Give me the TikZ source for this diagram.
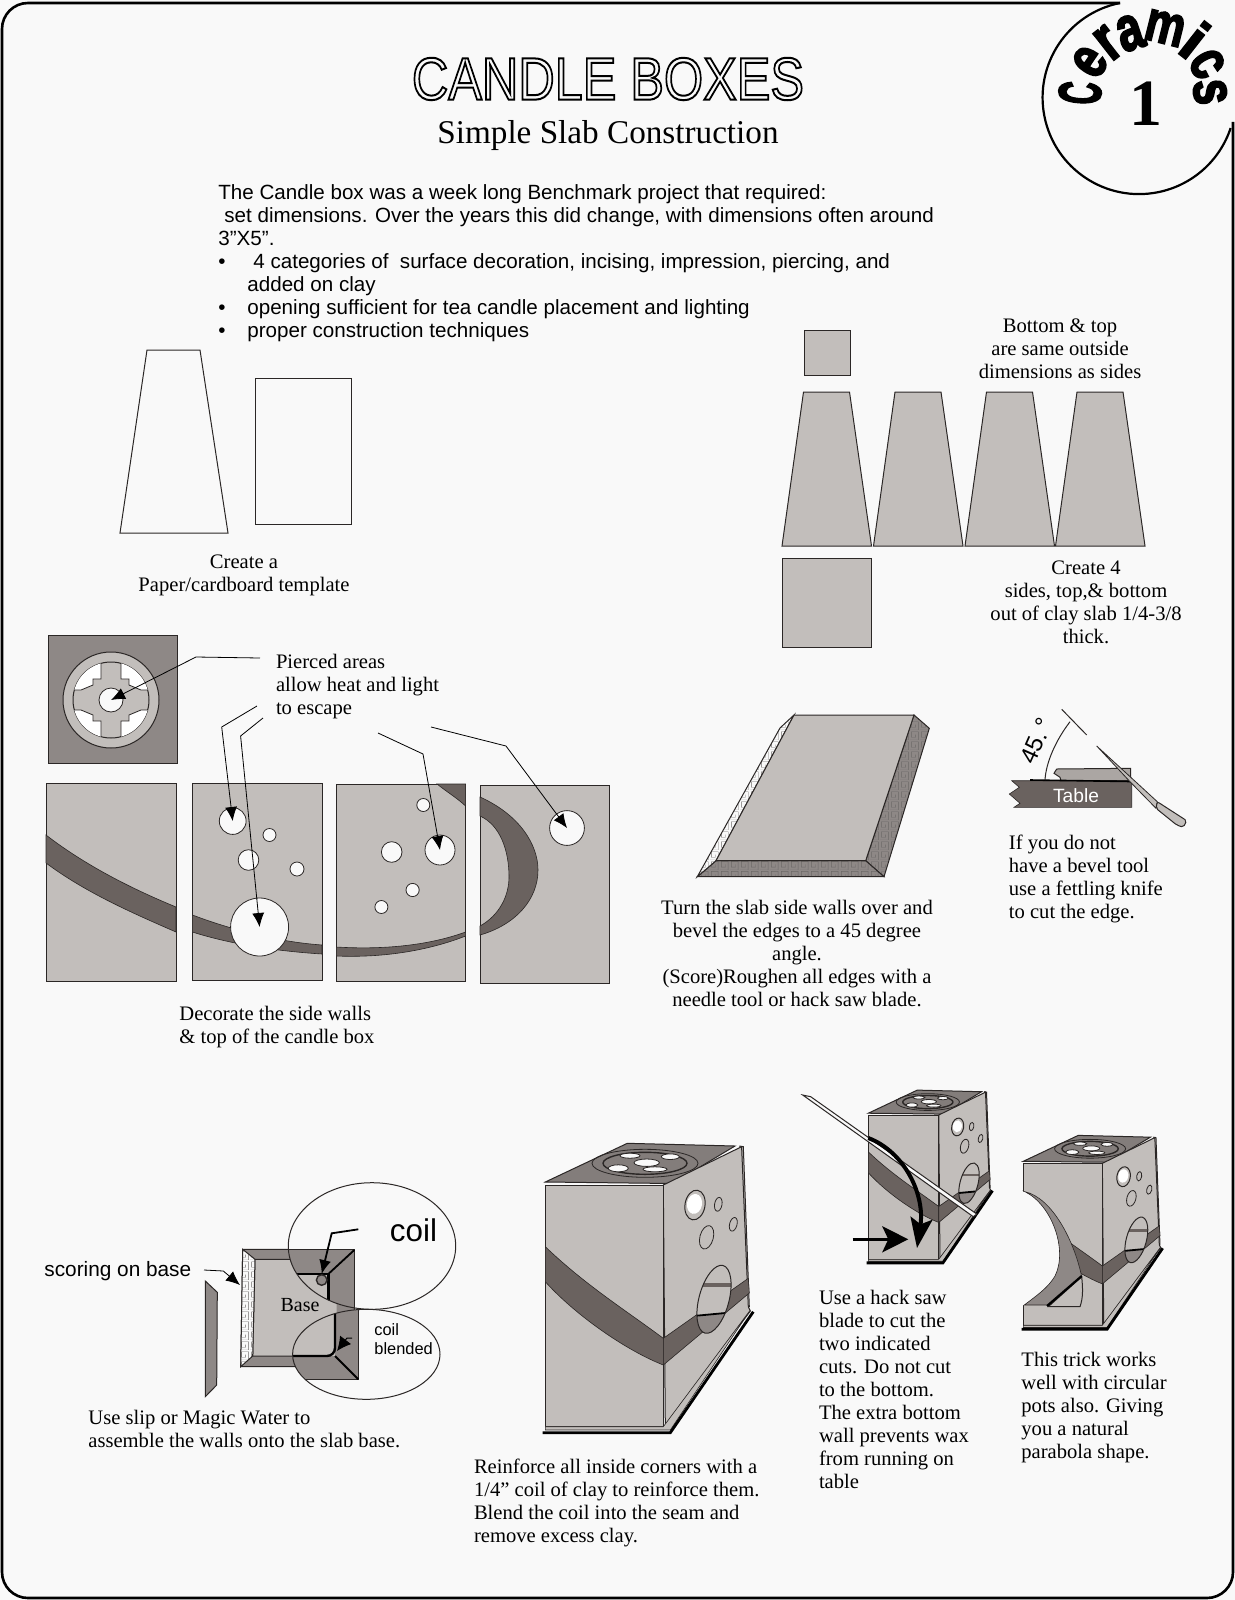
\documentclass[tikz,border=0pt]{standalone}
\usepackage{fontspec}
\setmainfont{Liberation Serif}
\setsansfont{Liberation Sans}
\usetikzlibrary{arrows.meta,patterns}
\definecolor{paper}{HTML}{F9F9F9}
\definecolor{clay}{HTML}{C2BEBB}
\definecolor{claymid}{HTML}{8E8886}
\definecolor{claydark}{HTML}{6A625F}
\definecolor{edge}{HTML}{2B2726}
\pgfdeclarepatternformonly{keyfret}{\pgfqpoint{0pt}{0pt}}{\pgfqpoint{5pt}{5pt}}{\pgfqpoint{5pt}{5pt}}{
  \pgfsetlinewidth{0.25pt}
  \pgfpathmoveto{\pgfqpoint{0pt}{0pt}}
  \pgfpathlineto{\pgfqpoint{4.5pt}{0pt}}
  \pgfpathlineto{\pgfqpoint{4.5pt}{4.5pt}}
  \pgfpathlineto{\pgfqpoint{0.8pt}{4.5pt}}
  \pgfpathlineto{\pgfqpoint{0.8pt}{1.5pt}}
  \pgfpathlineto{\pgfqpoint{3pt}{1.5pt}}
  \pgfpathlineto{\pgfqpoint{3pt}{3pt}}
  \pgfusepath{stroke}
}
\tikzset{
  panel/.style={draw=edge,line width=0.5pt,fill=clay},
  band/.style={draw=edge,line width=0.3pt,fill=claydark},
  slab/.style={draw=edge,line width=0.5pt,fill=claymid},
  hole/.style={draw=edge,line width=0.4pt,fill=paper,circle,inner sep=0pt},
  leader/.style={draw=black,line width=0.4pt,-{Latex[length=7pt,width=6pt]}},
  heavy/.style={draw=black,line width=1.2pt},
  serif/.style={font=\fontsize{10.3}{11.5}\selectfont,inner sep=0pt},
  sans/.style={font=\sffamily\fontsize{10.3}{11.5}\selectfont,inner sep=0pt},
  stamp/.style={font=\sffamily\bfseries\fontsize{30}{30}\selectfont,inner sep=0pt,transform shape},
  topwindow/.style={draw=edge,line width=0.4pt,fill=paper},
  candlebox/.pic={
    \fill[paper] (-1,-5) rectangle (118,0);
    \draw[slab,fill=claymid!92!black] (0,-3) -- (82,-41.7) -- (189.7,-39) -- (127,-1.5) -- cycle;
    \draw[panel] (194,-39) -- (198,-38.3) -- (204,122);
    \draw[panel] (118,0) -- (196.3,-38.3) -- (203,121.7) -- (205,126) -- (120,240) -- cycle;
    \draw[panel] (0,0) rectangle (118,241.7);
    \draw[band] (0,61.7) .. controls (40,100) and (80,125) .. (118,153.3) -- (118,180) .. controls (80,165) and (30,130) .. (0,96.7) -- cycle;
    \draw[band] (118,153.3) -- (203,93.3) -- (204,108) -- (118,180) -- cycle;
    \begin{scope}
      \clip[rotate around={-15:(168.7,114.3)}] (168.7,114.3) ellipse [x radius=15,y radius=35];
      \fill[clay] (140,70) rectangle (195,160);
      \fill[claydark] (150,98) rectangle (195,102);
      \fill[claymid] (148,132) -- (180,128) -- (180,155) -- (148,155) -- cycle;
      \draw[black,line width=0.9pt] (148,131) -- (180,128);
    \end{scope}
    \draw[edge,line width=0.5pt,rotate around={-15:(168.7,114.3)}] (168.7,114.3) ellipse [x radius=15,y radius=35];
    \draw[edge,line width=0.5pt,rotate around={-10:(149.7,20)}] (149.7,20) ellipse [x radius=10,y radius=15];
    \fill[white,rotate around={-10:(149.7,20)}] (149,19) ellipse [x radius=7.5,y radius=10];
    \draw[edge,line width=0.4pt,rotate around={-10:(173,19.3)}] (173,19.3) ellipse [x radius=3.7,y radius=7];
    \draw[edge,line width=0.4pt,rotate around={-15:(161.3,52.3)}] (161.3,52.3) ellipse [x radius=6.7,y radius=12];
    \draw[edge,line width=0.4pt,rotate around={-15:(188,39.3)}] (188,39.3) ellipse [x radius=3.7,y radius=7];
    \draw[edge,line width=0.4pt] (99.7,-21.7) ellipse [x radius=53,y radius=14];
    \draw[edge,line width=0.7pt] (99.7,-21.7) ellipse [x radius=42,y radius=11];
    \draw[topwindow] (101.4,-22.3) ellipse [x radius=12.7,y radius=3.7];
    \draw[topwindow] (84.7,-29.3) ellipse [x radius=10,y radius=2.5];
    \draw[topwindow] (125,-28.3) ellipse [x radius=9,y radius=2.8];
    \draw[topwindow] (73,-16.7) ellipse [x radius=10,y radius=3.5];
    \draw[topwindow] (109.7,-15.7) ellipse [x radius=12,y radius=2.5];
    \fill[clay,draw=edge,line width=0.3pt] (0,241.7) -- (118,241.7) -- (205,125) -- (125,245) -- (0,245) -- cycle;
    \draw[black,line width=1.4pt] (-2.7,247.7) -- (125,247.7) -- (208,126.7);
  }
}
\begin{document}
\begin{tikzpicture}[x=0.5pt,y=-0.5pt]
\useasboundingbox (0,0) rectangle (1235,1600);
\fill[paper] (0,0) rectangle (1235,1600);
\draw[black,line width=1.3pt] (1120,3) -- (28,3) arc[start angle=-90,end angle=-180,radius=26] -- (2,1572)
  arc[start angle=180,end angle=90,radius=26] -- (1207,1598) arc[start angle=90,end angle=0,radius=26] -- (1233,122);
\draw[black,line width=1.1pt] (1120,3) arc[start angle=-101.4,end angle=-341.6,radius=96.5];

\node[transform shape,xscale=0.84,font=\sffamily\fontsize{30}{30}\selectfont,inner sep=0pt] (title) at (608,79)
  {\special{pdf:code 1 Tr 1 w}CANDLE BOXES\special{pdf:code 0 Tr 1 w}};
\node[font=\fontsize{16.6}{20}\selectfont,inner sep=0pt] (subtitle) at (608,135.5) {Simple Slab Construction};
\foreach \nm/\ch/\cx/\cy/\rot/\xs/\ys in {sc/C/1080/93/86/0.52/1, se/e/1090/62/56/0.76/1, sr/r/1108/43/38/0.8/1.05, sa/a/1130/33/18/0.76/1.05,
    sm/m/1165/28/-14/0.74/0.95, si/i/1195/40/-38/1/0.95, sk/c/1207/64/-60/0.76/1, ss/s/1210/92/-84/0.76/1}
  \node[stamp,rotate=\rot,xscale=\xs,yscale=\ys] (\nm) at (\cx,\cy) {\special{pdf:code 2 Tr 1 w}\ch\special{pdf:code 0 Tr 1 w}};
\node[font=\bfseries\fontsize{33}{33}\selectfont,inner sep=0pt] (stampone) at (1146,104) {1};

\node[sans,anchor=north west,align=left] (intro) at (218,184) {The Candle box was a week long Benchmark project that required:\\
  \hspace*{3pt}set dimensions. Over the years this did change, with dimensions often around\\
  3”X5”.\\
  \makebox[17.5pt][l]{•}4 categories of\ \ surface decoration, incising, impression, piercing, and\\
  \hspace*{14.5pt}added on clay\\
  \makebox[14.5pt][l]{•}opening sufficient for tea candle placement and lighting\\
  \makebox[14.5pt][l]{•}proper construction techniques};

\draw[draw=edge,line width=0.5pt] (147,350) -- (200,350) -- (228,533) -- (120,533) -- cycle;
\draw[draw=edge,line width=0.5pt] (255,378) rectangle (351,524);
\node[serif,align=center] (template) at (244,575) {Create a\\Paper/cardboard template};

\draw[panel] (804,330) rectangle (850,375);
\foreach \tx in {782,873.5,965,1055.5}
  \draw[panel] ({\tx+21.5},392) -- ({\tx+67.5},392) -- ({\tx+89.5},546) -- (\tx,546) -- cycle;
\draw[panel] (782,558) rectangle (871,647);
\node[serif,align=center] (samesize) at (1060,349) {Bottom \& top\\are same outside\\dimensions as sides};
\node[serif,align=center] (fourcut) at (1086,602) {Create 4\\sides, top,\& bottom\\out of clay slab 1/4-3/8\\thick.};

\draw[slab] (48.5,635) rectangle (177,763);
\draw[edge,line width=0.5pt,fill=clay] (111,700) circle [radius=48];
\draw[edge,line width=0.5pt,fill=clay] (111,700) circle [radius=38];
\begin{scope}
  \clip (111,700) circle [radius=38];
  \foreach \sx/\sy in {1/1,1/-1,-1/1,-1/-1}
    \draw[edge,line width=0.4pt,fill=white] ({111+\sx*10},{700+\sy*42}) -- ({111+\sx*10},{700+\sy*21}) -- ({111+\sx*18},{700+\sy*21})
      -- ({111+\sx*18},{700+\sy*15}) -- ({111+\sx*30},{700+\sy*10}) -- ({111+\sx*42},{700+\sy*10}) -- ({111+\sx*42},{700+\sy*42}) -- cycle;
\end{scope}
\foreach \px/\py/\pw/\ph in {46/783/130/198,192.4/783/129.6/197,336.3/784/129.3/197,480/785/129/198}
  \draw[panel] (\px,\py) rectangle ++(\pw,\ph);
\draw[band] (46,835) .. controls (85,865) and (130,888) .. (176,907) -- (176,932) .. controls (130,912) and (85,892) .. (46,863) -- cycle;
\draw[band] (192.4,915) .. controls (235,931) and (280,942) .. (322,945) -- (322,954) .. controls (275,951) and (230,944) .. (192.4,932) -- cycle;
\draw[band] (336.3,947) .. controls (385,950) and (430,945) .. (465.6,932) -- (465.6,936) .. controls (430,950) and (385,958) .. (336.3,956) -- cycle;
\draw[band] (437,784) -- (465.6,784) -- (465.6,806) .. controls (457,798) and (447,792) .. (437,784) -- cycle;
\draw[band] (480,797) .. controls (520,815) and (538,845) .. (538,870) .. controls (538,900) and (515,925) .. (480,935)
  -- (480,926) .. controls (500,915) and (509,895) .. (509,877) .. controls (509,850) and (500,825) .. (480,816) -- cycle;
\foreach \nm/\cx/\cy/\dia in {top/111/700/12, wa/232.7/821/13.4, wb/269.5/835/6.5, wc/248.5/860/10.3, wd/297/869/7, we/259.6/927/29,
    xa/423.3/805/6.5, xb/391.7/852/10.3, xc/440/850/15, xd/412.6/890/6.6, xe/381.4/907/6.5, ya/567/828/17.4}
  \node[hole,minimum size=\dia pt] (\nm) at (\cx,\cy) {};
\coordinate (la) at (260,658); \coordinate (lb) at (257,706); \coordinate (lc) at (263,718); \coordinate (ld) at (378,733); \coordinate (le) at (431,727);
\draw[leader] (la) -- (196,657) -- (top.center);
\draw[leader] (lb) -- (221.7,727) -- (wa.center);
\draw[leader] (lc) -- (240.6,736) -- (we.center);
\draw[leader] (ld) -- (423,754) -- (xc.center);
\draw[leader] (le) -- (506,746) -- (ya.center);
\node[serif,anchor=west,align=left] (pierced) at (275.6,687) {Pierced areas\\allow heat and light\\to escape};
\node[serif,anchor=west,align=left] (decorate) at (179,1027) {Decorate the side walls\\\& top of the candle box};

\draw[slab,preaction={fill=claymid},pattern=keyfret,pattern color=edge!70] (914,715) -- (929.3,728.3) -- (884,876.7) -- (865.7,860.7) -- cycle;
\draw[slab,preaction={fill=claymid},pattern=keyfret,pattern color=edge!70] (716,860.7) -- (865.7,860.7) -- (884,876.7) -- (697.3,876.7) -- cycle;
\draw[slab,preaction={fill=paper},pattern=keyfret,pattern color=edge!70] (794,715) -- (780,728) -- (697.3,876.7) -- (716,860.7) -- cycle;
\draw[panel] (794,715) -- (914,715) -- (865.7,860.7) -- (716,860.7) -- cycle;
\node[serif,align=center] (bevel) at (797,953) {Turn the slab side walls over and\\bevel the edges to a 45 degree\\angle.\\(Score)Roughen all edges with a\\needle tool or hack saw blade.};

\draw[slab,fill=clay!55!claymid] (1054,773.3) -- (1056.7,769) -- (1130.7,768.3) -- (1130.7,780.7) -- (1061,780.7) -- (1060,777.3) -- cycle;
\draw[band,fill=claydark] (1011.7,780.7) -- (1131.7,780.7) -- (1131.7,807.3) -- (1014,807.3) -- (1020,803.3) -- (1009.3,794) -- (1019.3,787.3) -- cycle;
\draw[black,line width=0.8pt] (1030,780) -- (1131,781.5);
\node[sans,font=\sffamily\fontsize{9.6}{10}\selectfont,text=white] (table) at (1076,796) {Table};
\draw[edge,line width=0.5pt] (1045,780) .. controls (1046,762) and (1056,740) .. (1070,721.7);
\draw[edge,line width=0.5pt] (1061.7,709.3) -- (1086.7,735);
\node[sans,font=\sffamily\fontsize{12}{12}\selectfont,rotate=66] (angle) at (1036.5,741) {45.\,°};
\draw[edge,line width=0.4pt,fill=clay] (1096.7,746) -- (1157.3,801.7) -- (1156,808.3) -- (1130,781.7) -- cycle;
\draw[edge,line width=0.5pt,fill=clay,rounded corners=1pt] (1157.3,801.7) -- (1186.7,820.7) -- (1183.3,827.3) -- (1176.7,825) -- (1156,808.3) -- cycle;
\node[serif,anchor=west,align=left] (fettling) at (1008.5,879) {If you do not\\have a bevel tool\\use a fettling knife\\to cut the edge.};

\draw[slab] (205.3,1281) -- (217.3,1292.3) -- (216.7,1385) -- (205.3,1396.7) -- cycle;
\draw[slab] (242.7,1249.3) -- (354.3,1249.3) -- (354.3,1366.7) -- (240.7,1366.7) -- cycle;
\fill[clay] (255,1259.3) -- (336.7,1259.3) -- (336.7,1356) -- (252.7,1356) -- cycle;
\draw[edge,line width=0.5pt] (252.7,1356) -- (255,1259.3) -- (340,1259.3) (252.7,1356) -- (340,1356);
\draw[slab,preaction={fill=paper},pattern=keyfret,pattern color=edge!70] (242.7,1249.3) -- (255,1259.3) -- (252.7,1356) -- (240.7,1366.7) -- cycle;
\node[serif,font=\fontsize{10}{11}\selectfont] (basetext) at (300,1305) {Base};
\begin{scope}
  \clip (372,1246) ellipse [x radius=83.7,y radius=63.3];
  \fill[paper] (280,1180) rectangle (460,1312);
  \fill[claymid] (285,1249.3) -- (354.3,1249.3) -- (354.3,1312) -- (328.3,1312) -- (328.3,1274) -- (285,1274) -- cycle;
  \fill[clay] (285,1274) rectangle (328.3,1312);
  \draw[edge,line width=0.5pt] (285,1249.3) -- (354.3,1249.3) -- (354.3,1312);
  \draw[heavy] (285,1274) -- (328.3,1274) -- (328.3,1312);
  \draw[heavy,line width=0.9pt] (328.3,1274) -- (354.3,1250);
\end{scope}
\node[hole,fill=claymid,minimum size=5.3pt,line width=0.7pt] (coilend) at (321.7,1280) {};
\coordinate (coilstart) at (358.3,1229.3);
\draw[leader,line width=0.9pt] (coilstart) -- (331.7,1233.3) -- (coilend.north);
\draw[edge,line width=0.5pt] (372,1246) ellipse [x radius=83.7,y radius=63.3];
\begin{scope}
  \clip (366.3,1354.3) ellipse [x radius=73.7,y radius=45];
  \fill[paper] (285,1305) rectangle (450,1405);
  \fill[claymid] (335,1309.3) -- (358.3,1309.3) -- (358.3,1379.3) -- (285,1379.3) -- (285,1356) -- (335,1356) -- cycle;
  \fill[clay] (285,1309.3) rectangle (335,1356);
  \draw[edge,line width=0.5pt] (285,1379.3) -- (358.3,1379.3) -- (358.3,1309.3);
  \draw[heavy,rounded corners=4pt] (335,1305) -- (335,1356) -- (285,1356);
  \draw[heavy,line width=0.9pt] (335,1356) -- (358.3,1379.3);
\end{scope}
\coordinate (blendstart) at (352,1338);
\coordinate (blendend) at (337,1351);
\draw[leader,line width=0.5pt,-{Latex[length=7pt,width=7pt]}] (blendstart) -- (347,1338) -- (blendend);
\draw[edge,line width=0.5pt] (366.3,1354.3) ellipse [x radius=73.7,y radius=45];
\node[sans,font=\sffamily\fontsize{15.7}{16}\selectfont] (coiltext) at (413.5,1230) {coil};
\node[sans,anchor=west,align=left,font=\sffamily\fontsize{8.2}{9.5}\selectfont] (blended) at (374,1339.5) {coil\\blended};
\node[sans,anchor=west,font=\sffamily\fontsize{10.4}{12}\selectfont] (scoring) at (44,1271) {scoring on base};
\coordinate (scorestart) at (204,1270);
\coordinate (scoreend) at (240,1285);
\draw[leader] (scorestart) -- (223.3,1271) -- (scoreend);
\node[serif,anchor=west,align=left] (assemble) at (88,1429) {Use slip or Magic Water to\\assemble the walls onto the slab base.};

\pic at (545.3,1185) {candlebox};
\node[serif,anchor=west,align=left] (reinforce) at (473.6,1502.5) {Reinforce all inside corners with a\\1/4” coil of clay to reinforce them.\\Blend the coil into the seam and\\remove excess clay.};

\pic[scale=0.597] at (868.3,1115) {candlebox};
\draw[edge,line width=0.5pt,fill=paper] (802.7,1095) -- (810.7,1096.7) -- (976.7,1214) -- (973.3,1216.7) -- cycle;
\coordinate (cutone) at (868.3,1138);
\coordinate (cutonetip) at (917,1248);
\coordinate (cuttwo) at (852.7,1239.3);
\coordinate (cuttwotip) at (908.3,1239.3);
\draw[black,line width=2pt,-{Stealth[length=15pt,width=11pt,inset=3pt]}] (cutone) .. controls (905,1152) and (925,1195) .. (cutonetip);
\draw[black,line width=1.6pt,-{Stealth[length=13pt,width=13pt,inset=3pt]}] (cuttwo) -- (cuttwotip);
\node[serif,anchor=west,align=left] (sawtext) at (818.6,1389) {Use a hack saw\\blade to cut the\\two indicated\\cuts. Do not cut\\to the bottom.\\The extra bottom\\wall prevents wax\\from running on\\table};

\pic[scale=0.67] at (1023.3,1163.3) {candlebox};
\fill[paper] (1020,1191.7) -- (1025,1191.7) .. controls (1052,1205) and (1068,1250) .. (1055,1276) .. controls (1048,1288) and (1036,1296) .. (1024.3,1305) -- (1020,1305) -- cycle;
\draw[band,fill=claymid] (1025,1191.7) .. controls (1052,1198) and (1074,1240) .. (1081.7,1276.7) -- (1048.7,1305) -- (1024.3,1305)
  .. controls (1036,1296) and (1048,1288) .. (1055,1276) .. controls (1068,1250) and (1052,1205) .. (1025,1191.7) -- cycle;
\draw[panel] (1081.7,1276.7) .. controls (1083,1290) and (1083,1298) .. (1080,1306.7) -- (1048.3,1306.7) -- cycle;
\draw[black,line width=1.1pt] (1047,1306) -- (1081.7,1276);
\node[serif,anchor=west,align=left] (parabola) at (1021,1407.5) {This trick works\\well with circular\\pots also. Giving\\you a natural\\parabola shape.};
\end{tikzpicture}
\end{document}
